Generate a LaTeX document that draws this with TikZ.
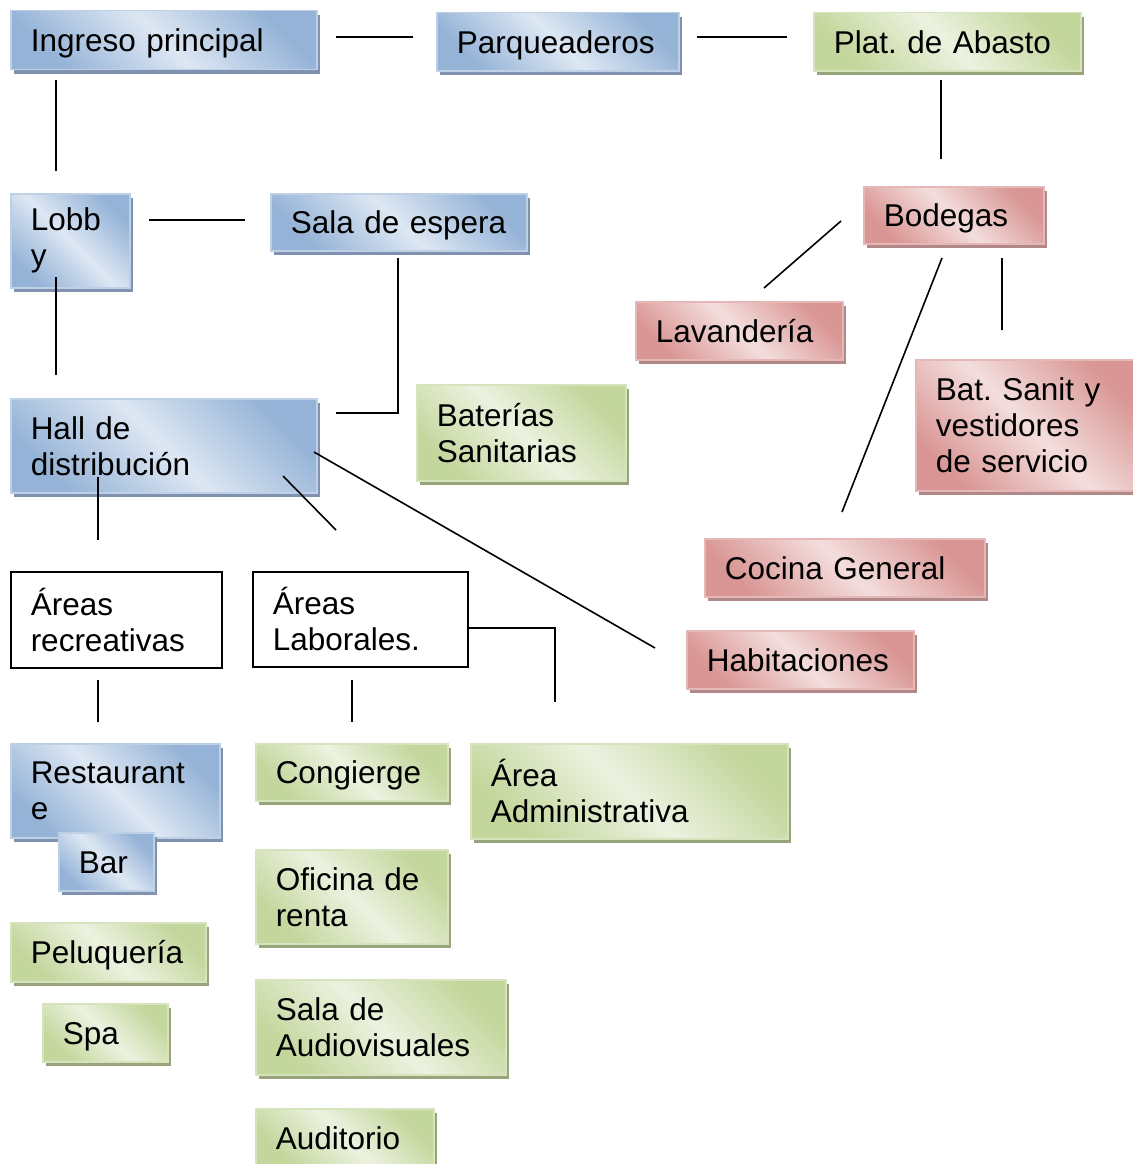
\documentclass[tikz,border=0pt]{standalone}
\usepackage{fontspec}
\setmainfont{Liberation Sans}
\usepackage{tikz}
\usetikzlibrary{shadows}

\definecolor{azulO}{RGB}{149,179,215}
\definecolor{azulC}{RGB}{221,231,243}
\definecolor{azulB}{RGB}{190,208,230}
\definecolor{azulS}{RGB}{128,146,176}
\definecolor{verdeO}{RGB}{195,214,155}
\definecolor{verdeC}{RGB}{236,242,224}
\definecolor{verdeB}{RGB}{214,227,188}
\definecolor{verdeS}{RGB}{152,164,124}
\definecolor{rojoO}{RGB}{217,150,148}
\definecolor{rojoC}{RGB}{243,222,221}
\definecolor{rojoB}{RGB}{229,184,183}
\definecolor{rojoS}{RGB}{176,136,136}

\hyphenpenalty=10000
\exhyphenpenalty=10000
\frenchspacing

\tikzset{
    caja/.style={anchor=north west, inner xsep=20pt, inner ysep=0pt, align=left,
        font=\fontsize{31.5}{36}\selectfont, line width=1.5pt},
    azul/.style={caja, draw=azulB, top color=azulO, bottom color=azulO, middle color=azulC,
        shading angle=-45, drop shadow={shadow xshift=3pt, shadow yshift=-4pt, fill=azulS, opacity=1}},
    verde/.style={caja, draw=verdeB, top color=verdeO, bottom color=verdeO, middle color=verdeC,
        shading angle=-45, drop shadow={shadow xshift=3pt, shadow yshift=-4pt, fill=verdeS, opacity=1}},
    rojo/.style={caja, draw=rojoB, top color=rojoO, bottom color=rojoO, middle color=rojoC,
        shading angle=-45, drop shadow={shadow xshift=3pt, shadow yshift=-4pt, fill=rojoS, opacity=1}},
    blanca/.style={caja, draw=black, fill=white},
    linea/.style={line width=1.6pt},
    una/.style={text height=27pt, text depth=4.5pt}
}

\begin{document}
\begin{tikzpicture}[x=1pt, y=-1pt]
    \useasboundingbox (0,0) rectangle (1132,1164);

    % fila superior
    \node[azul, una, text width=266pt, minimum height=59pt] (ingreso) at (10,10) {Ingreso principal};
    \node[azul, una, text width=202pt, minimum height=58pt] (parqueaderos) at (436,12) {Parqueaderos};
    \node[verde, una, text width=227pt, minimum height=58pt] (abasto) at (813,12) {Plat. de Abasto};

    % lobby y hall
    \node[azul, text width=79pt, minimum height=94pt] (lobby) at (10,193) {Lobb\\y};
    \node[azul, una, text width=216pt, minimum height=57pt] (espera) at (270,193) {Sala de espera};
    \node[azul, text width=266pt, minimum height=94pt] (hall) at (10,398) {Hall de\\distribución};
    \node[verde, text width=169pt, minimum height=96pt] (baterias) at (416,384) {Baterías\\Sanitarias};

    % servicio
    \node[rojo, una, text width=140pt, minimum height=57pt] (bodegas) at (863,186) {Bodegas};
    \node[rojo, una, text width=167pt, minimum height=58pt] (lavanderia) at (635,301) {Lavandería};
    \node[rojo, text width=185pt, minimum height=131pt] (batserv) at (915,359) {Bat. Sanit y\\vestidores\\de servicio};
    \node[rojo, una, text width=240pt, minimum height=58pt] (cocina) at (704,538) {Cocina General};
    \node[rojo, una, text width=187pt, minimum height=58pt] (habitaciones) at (686,630) {Habitaciones};

    % areas
    \node[blanca, text width=171pt, minimum height=96pt] (recreativas) at (10,571) {Áreas\\recreativas};
    \node[blanca, text width=175pt, minimum height=95pt] (laborales) at (252,571) {Áreas\\Laborales.};

    \node[azul, text width=169pt, minimum height=94pt] (restaurante) at (10,743) {Restaurant\\e};
    \node[azul, una, text width=55pt, minimum height=58pt] (bar) at (58,832) {Bar};
    \node[verde, una, text width=155pt, minimum height=59pt] (peluqueria) at (10,922) {Peluquería};
    \node[verde, una, text width=85pt, minimum height=58pt] (spa) at (42,1003) {Spa};

    \node[verde, una, text width=152pt, minimum height=57pt] (congierge) at (255,743) {Congierge};
    \node[verde, text width=277pt, minimum height=95pt] (admin) at (470,743) {Área\\Administrativa};
    \node[verde, text width=152pt, minimum height=94pt] (oficina) at (255,849) {Oficina de\\renta};
    \node[verde, text width=210pt, minimum height=95pt] (audiovisuales) at (255,979) {Sala de\\Audiovisuales};
    \node[verde, una, text width=138pt, minimum height=58pt] (auditorio) at (255,1108) {Auditorio};

    % extremos de los conectores
    \coordinate (ingA) at (336,37);   \coordinate (parA) at (413,37);
    \coordinate (parB) at (697,37);   \coordinate (abaA) at (787,37);
    \coordinate (ingB) at (56,80);    \coordinate (lobA) at (56,171);
    \coordinate (abaB) at (941,80);   \coordinate (bodA) at (941,159);
    \coordinate (lobB) at (149,220);  \coordinate (espA) at (245,220);
    \coordinate (lobC) at (56,277);   \coordinate (halA) at (56,375);
    \coordinate (espB) at (398,258);  \coordinate (halB) at (336,413);
    \coordinate (bodB) at (841,221);  \coordinate (lavA) at (764,288);
    \coordinate (bodC) at (942,258);  \coordinate (cocA) at (842,512);
    \coordinate (bodD) at (1002,258); \coordinate (batA) at (1002,330);
    \coordinate (halC) at (314,452);  \coordinate (habA) at (655,648);
    \coordinate (halD) at (283,476);  \coordinate (labA) at (336,530);
    \coordinate (halE) at (98,477);   \coordinate (recA) at (98,540);
    \coordinate (recB) at (98,680);   \coordinate (resA) at (98,722);
    \coordinate (labB) at (352,680);  \coordinate (conA) at (352,722);
    \coordinate (labC) at (467,628);  \coordinate (admA) at (555,702);

    \draw[linea] (ingA) -- (parA);
    \draw[linea] (parB) -- (abaA);
    \draw[linea] (ingB) -- (lobA);
    \draw[linea] (abaB) -- (bodA);
    \draw[linea] (lobB) -- (espA);
    \draw[linea] (lobC) -- (halA);
    \draw[linea] (espB) |- (halB);
    \draw[linea] (bodB) -- (lavA);
    \draw[linea] (bodC) -- (cocA);
    \draw[linea] (bodD) -- (batA);
    \draw[linea] (halC) -- (habA);
    \draw[linea] (halD) -- (labA);
    \draw[linea] (halE) -- (recA);
    \draw[linea] (recB) -- (resA);
    \draw[linea] (labB) -- (conA);
    \draw[linea] (labC) -| (admA);
\end{tikzpicture}
\end{document}
